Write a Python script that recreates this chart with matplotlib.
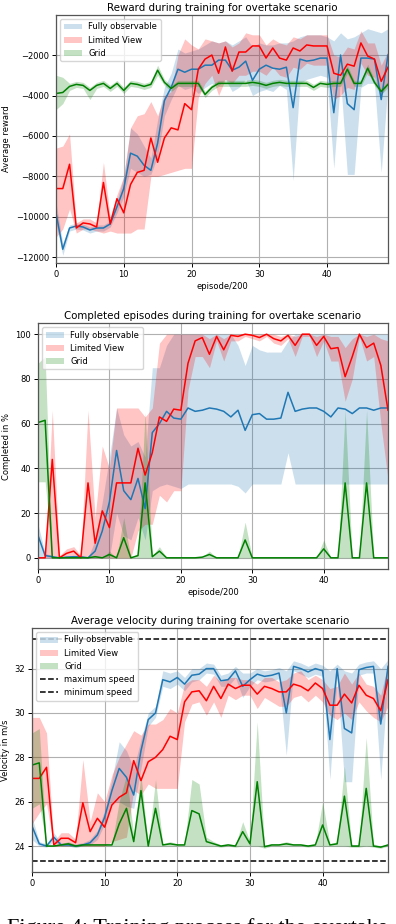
import numpy as np
import matplotlib
matplotlib.use('Agg')
import matplotlib.pyplot as plt

# episodes (x / 200)
episodes = list(range(50))

# ---- reward panel ----
rew_full = [-9800, -11600, -10550, -10450, -10500, -10650, -10550, -10550, -10350, -9500,
            -8600, -6850, -7000, -7450, -7700, -6350, -4250, -3600, -2700, -2850,
            -2700, -2700, -2500, -2500, -2250, -2250, -2750, -2600, -2300, -3250,
            -2700, -2500, -2650, -2700, -2600, -4600, -2200, -2300, -2250, -2150,
            -2150, -4850, -2000, -4400, -4700, -2150, -2150, -2200, -4200, -2000]
rew_full_lo = [-10300, -11900, -10700, -10600, -10650, -10800, -10700, -10700, -10500, -9800,
               -9000, -7600, -7800, -8000, -7900, -7000, -5000, -4200, -3500, -3700,
               -3600, -3900, -3600, -3400, -3500, -3200, -3800, -3600, -3200, -4000,
               -3800, -3700, -3800, -3500, -3700, -8200, -3400, -3200, -3100, -3000,
               -3100, -7600, -3200, -7900, -7900, -3600, -3400, -3400, -7800, -3400]
rew_full_hi = [-9300, -11300, -10400, -10300, -10350, -10500, -10400, -10400, -10200, -9200,
               -8000, -5600, -5900, -6500, -7100, -5200, -3600, -2900, -1700, -1900,
               -1800, -1700, -1500, -1300, -1400, -1300, -1500, -1300, -1100, -1600,
               -1400, -1500, -1500, -1400, -1400, -1300, -1100, -1000, -1000, -1000,
               -1100, -1300, -900, -1200, -1100, -900, -700, -800, -900, -700]

rew_lim = [-8600, -8600, -7400, -10550, -10300, -10350, -10500, -8300, -10350, -9100,
           -9800, -8400, -7800, -7700, -6100, -7300, -6100, -5600, -5700, -4400,
           -4700, -2700, -2200, -2000, -2900, -1600, -2800, -1850, -1850, -1550,
           -1550, -2150, -1650, -2150, -2250, -1650, -1800, -1500, -1550, -1550,
           -1550, -2900, -3000, -2450, -2550, -1400, -2050, -2200, -3300, -2600]
rew_lim_lo = [-11000, -10600, -9600, -10800, -10600, -10600, -10700, -10800, -10700, -10800,
              -10800, -10800, -10600, -10600, -8000, -8000, -7900, -7800, -7700, -7600,
              -7600, -4100, -3400, -3000, -4000, -3200, -3400, -3000, -3000, -2800,
              -2800, -3000, -2600, -3000, -3100, -2600, -2700, -2400, -2500, -2500,
              -2500, -4200, -4000, -3600, -3700, -2400, -3000, -3100, -4000, -3400]
rew_lim_hi = [-6600, -6500, -5900, -10300, -10100, -10100, -10300, -7300, -10000, -8900,
              -8000, -5600, -5000, -4900, -4300, -5000, -4000, -3800, -2000, -1200,
              -1500, -1700, -1200, -1300, -1400, -1300, -1600, -1400, -900, -1000,
              -1000, -1500, -1200, -1400, -1500, -1100, -1200, -1000, -1000, -1000,
              -1000, -2000, -2100, -1600, -1700, -800, -1400, -1400, -2500, -1800]

rew_grid = [-3900, -3850, -3550, -3450, -3500, -3750, -3500, -3400, -3650, -3400,
            -3750, -3400, -3450, -3550, -3450, -2750, -3350, -3650, -3400, -3400,
            -3400, -3400, -3950, -3600, -3400, -3400, -3400, -3400, -3400, -3350,
            -3400, -3500, -3400, -3350, -3400, -3400, -3400, -3400, -3600, -3400,
            -3450, -3400, -3400, -2700, -3400, -3400, -2650, -3350, -3800, -3450]
rew_grid_lo = [-4700, -4400, -3750, -3600, -3650, -4200, -3650, -3550, -3800, -3550,
               -3900, -3550, -3600, -3700, -3600, -3000, -3500, -3800, -3550, -3550,
               -3550, -3550, -4100, -3750, -3550, -3550, -3550, -3550, -3550, -3500,
               -3550, -3650, -3550, -3500, -3550, -3550, -3550, -3550, -3750, -3550,
               -3600, -3550, -3550, -2900, -3550, -3550, -2850, -3500, -3950, -3600]
rew_grid_hi = [-3000, -3100, -3400, -3300, -3350, -3600, -3350, -3250, -3500, -3250,
               -3600, -3250, -3300, -3400, -3300, -2500, -3200, -3500, -3250, -3250,
               -3250, -3250, -3800, -3450, -3250, -3250, -3250, -3250, -3250, -3200,
               -3250, -3350, -3250, -3200, -3250, -3250, -3250, -3250, -3450, -3250,
               -3300, -3250, -3250, -2500, -3250, -3250, -2450, -3200, -3650, -3300]

# ---- completed panel ----
comp_full = [10, 1, 0.5, 0, 0.3, 0.5, 0.5, 0, 3, 12,
             25, 48, 30, 26, 35.5, 22, 56, 60, 65.5, 62.5,
             62, 67, 65.5, 66, 67, 66.5, 65.5, 63, 66, 57,
             64, 64.5, 62, 62, 62.5, 74, 65.5, 66.5, 67, 67,
             65.5, 63, 67, 66.5, 64.5, 67, 67, 66, 67, 67]
comp_full_lo = [0, 0, 0, 0, 0, 0, 0, 0, 0, 0,
                0, 20, 10, 8, 18, 8, 30, 32, 33, 32,
                31, 33, 33, 33, 33, 33, 33, 33, 32, 29,
                33, 33, 33, 33, 33, 47, 33, 33, 33, 33,
                33, 33, 33, 33, 33, 33, 33, 33, 33, 33]
comp_full_hi = [15, 2, 1, 0, 1, 1, 1, 0, 8, 25,
                45, 67, 55, 50, 52, 45, 85, 85, 95, 100,
                100, 100, 100, 100, 100, 100, 100, 100, 95, 86,
                95, 93, 92, 92, 92, 97, 100, 100, 100, 100,
                100, 100, 100, 100, 100, 100, 100, 100, 100, 100]

comp_lim = [0, 0, 44, 0, 2, 3, 0, 33.5, 6.5, 21,
            13.5, 33.5, 33.5, 33.5, 49, 37, 47, 63, 61, 66.5,
            66, 87, 97, 98.5, 91, 99, 93, 99.5, 99, 100,
            99.5, 98.5, 100, 98, 97, 99.5, 95, 100, 100, 95,
            99, 93.5, 94, 81, 90, 100, 94, 96, 86, 66]
comp_lim_lo = [0, 0, 0, 0, 0, 0, 0, 0, 0, 0,
               0, 0, 0, 0, 12, 15, 15, 28, 25, 30,
               30, 75, 90, 90, 85, 97, 88, 97, 97, 99,
               98, 97, 99, 96, 95, 98, 90, 99, 99, 90,
               97, 88, 88, 70, 80, 99, 88, 90, 60, 35]
comp_lim_hi = [0, 0, 66, 1, 4, 5, 1, 66, 18, 50,
               40, 67, 67, 67, 67, 63, 67, 96, 100, 100,
               100, 100, 100, 100, 98, 100, 98, 100, 100, 100,
               100, 100, 100, 100, 99, 100, 99, 100, 100, 99,
               100, 99, 99, 94, 98, 100, 99, 100, 98, 97]

comp_grid = [60.5, 61.5, 0, 0, 0, 0, 0, 0, 0.5, 0,
             1.5, 0, 9, 0, 1, 33.5, 0.5, 3, 0, 0,
             0, 0, 0, 0.3, 1.5, 0, 0, 0, 0, 8,
             0, 0, 0, 0, 0, 0, 0, 0, 0, 0,
             4, 0, 0, 33.5, 0, 0, 33.5, 0, 0, 0]
comp_grid_lo = [34, 34, 0, 0, 0, 0, 0, 0, 0, 0,
                0, 0, 0, 0, 0, 0, 0, 0, 0, 0,
                0, 0, 0, 0, 0, 0, 0, 0, 0, 0,
                0, 0, 0, 0, 0, 0, 0, 0, 0, 0,
                0, 0, 0, 0, 0, 0, 0, 0, 0, 0]
comp_grid_hi = [87, 90, 0, 0, 0, 0, 0, 0, 1, 0,
                3, 0, 18, 0, 2, 65, 1, 5, 0, 0,
                0, 0, 0, 0.5, 3, 0, 0, 0, 0, 16,
                0, 0, 0, 0, 0, 0, 0, 0, 0, 0,
                8, 0, 0, 66, 0, 0, 66, 0, 0, 0]

# ---- velocity panel ----
vel_full = [24.9, 24.1, 24.0, 24.4, 24.05, 24.05, 24.0, 24.05, 24.15, 24.5,
            25.3, 26.5, 27.5, 27.1, 26.3, 28.3, 29.7, 30.0, 31.5, 31.4,
            31.6, 31.3, 31.7, 31.75, 32.0, 32.0, 31.45, 31.5, 31.9, 31.2,
            31.5, 31.75, 31.65, 31.7, 31.8, 30.0, 32.1, 32.0, 31.85, 32.0,
            31.9, 28.8, 32.0, 29.3, 29.1, 31.95, 32.05, 32.1, 29.5, 32.1]
vel_full_lo = [24.3, 24.0, 23.95, 24.2, 24.0, 24.0, 23.95, 24.0, 24.05, 24.3,
               25.0, 26.0, 26.0, 25.8, 25.7, 27.5, 29.4, 29.8, 31.2, 31.1,
               31.3, 31.0, 31.4, 31.5, 31.8, 31.75, 31.2, 31.2, 31.6, 30.7,
               31.2, 31.5, 31.4, 31.45, 31.55, 28.1, 31.9, 31.75, 31.6, 31.75,
               31.65, 27.0, 31.6, 26.9, 26.9, 31.7, 31.8, 31.8, 27.0, 31.6]
vel_full_hi = [25.3, 24.2, 24.1, 24.6, 24.15, 24.15, 24.1, 24.15, 24.3, 24.7,
               25.6, 27.0, 28.7, 28.3, 27.5, 28.8, 30.0, 30.3, 31.9, 31.8,
               31.9, 31.6, 32.0, 32.0, 32.25, 32.2, 31.7, 31.8, 32.1, 31.8,
               31.8, 32.0, 31.9, 31.95, 32.05, 31.9, 32.35, 32.25, 32.1, 32.25,
               32.15, 31.9, 32.2, 31.9, 31.8, 32.2, 32.3, 32.35, 32.0, 32.4]

vel_lim = [27.05, 27.05, 27.55, 24.05, 24.35, 24.35, 24.15, 25.95, 24.65, 25.25,
           24.85, 25.85, 26.2, 26.4, 27.85, 26.95, 27.8, 28.0, 28.35, 28.95,
           28.8, 30.5, 30.95, 31.0, 30.55, 31.2, 30.65, 31.3, 31.1, 31.25,
           31.25, 30.85, 31.2, 31.1, 30.95, 30.95, 31.3, 31.2, 31.0, 31.35,
           31.1, 30.35, 30.35, 30.85, 30.45, 31.25, 30.8, 30.65, 30.1, 31.5]
vel_lim_lo = [25.0, 25.5, 25.9, 24.0, 24.0, 24.0, 24.0, 24.0, 24.0, 24.0,
              24.0, 24.2, 24.3, 24.4, 26.5, 26.3, 26.8, 26.6, 26.6, 26.6,
              26.6, 29.6, 30.4, 30.5, 29.9, 30.5, 29.8, 30.8, 30.6, 30.8,
              30.8, 30.2, 30.7, 30.5, 30.3, 30.3, 30.7, 30.8, 30.5, 30.8,
              30.5, 29.9, 29.7, 30.0, 29.7, 30.5, 30.1, 29.8, 29.6, 30.3]
vel_lim_hi = [29.8, 29.8, 29.1, 24.2, 24.6, 24.6, 24.3, 27.9, 25.1, 26.4,
              26.0, 27.2, 28.0, 28.6, 29.2, 29.0, 29.5, 29.5, 29.7, 30.2,
              30.0, 31.3, 31.5, 31.5, 31.2, 31.7, 31.4, 31.6, 31.6, 31.5,
              31.5, 31.3, 31.6, 31.6, 31.4, 31.5, 31.8, 31.9, 31.5, 31.7,
              31.5, 31.1, 31.2, 31.8, 31.3, 31.8, 31.3, 31.2, 30.8, 32.2]

vel_grid = [27.65, 27.75, 24.0, 24.0, 24.05, 24.1, 24.0, 24.05, 24.05, 24.05,
            24.05, 24.05, 25.0, 25.7, 24.2, 26.5, 24.0, 25.7, 24.05, 24.1,
            24.05, 24.05, 25.6, 25.45, 24.2, 24.1, 24.0, 24.05, 24.0, 24.65,
            24.1, 26.9, 23.97, 24.05, 24.05, 24.1, 24.05, 24.05, 24.0, 24.05,
            24.95, 24.05, 24.1, 26.25, 24.0, 24.0, 26.6, 24.0, 23.95, 24.05]
vel_grid_lo = [25.7, 25.9, 24.0, 24.0, 24.0, 24.0, 23.95, 24.0, 24.0, 24.0,
               24.0, 24.0, 24.0, 24.0, 24.0, 24.0, 24.0, 24.0, 24.0, 24.0,
               24.0, 24.0, 24.0, 24.0, 24.0, 24.0, 23.95, 24.0, 23.95, 24.0,
               24.0, 24.0, 23.9, 24.0, 24.0, 24.0, 24.0, 24.0, 23.95, 24.0,
               24.0, 24.0, 24.0, 24.0, 23.95, 23.95, 24.0, 23.95, 23.9, 24.0]
vel_grid_hi = [29.1, 29.3, 24.0, 24.05, 24.1, 24.2, 24.05, 24.1, 24.1, 24.1,
               24.1, 24.1, 26.0, 27.2, 24.5, 27.2, 24.05, 27.0, 24.1, 24.2,
               24.1, 24.1, 27.0, 26.8, 24.4, 24.2, 24.05, 24.1, 24.05, 25.1,
               24.2, 29.6, 24.05, 24.1, 24.1, 24.2, 24.1, 24.1, 24.05, 24.1,
               26.0, 24.1, 24.2, 27.6, 24.05, 24.05, 28.9, 24.1, 24.0, 24.1]

max_speed = 33.33
min_speed = 23.33

labels = ['Fully observable', 'Limited View', 'Grid']
colors = ['tab:blue', 'red', 'green']

plt.rcParams['font.family'] = 'DejaVu Sans'
plt.rcParams['font.size'] = 6

fig = plt.figure(figsize=(3.96, 9.24), dpi=100)
H = 924.0
W = 396.0


def make_axes(left, right, top, bottom):
    return fig.add_axes([left / W, 1 - bottom / H, (right - left) / W, (bottom - top) / H])


def draw_panel(ax, series, title, ylabel, xlabel=True):
    for (mean, lo, hi), lab, col in zip(series, labels, colors):
        ax.fill_between(episodes, lo, hi, color=col, alpha=0.23, linewidth=0, label=lab)
        ax.plot(episodes, mean, color=col, linewidth=1.1)
    ax.set_title(title, fontsize=7.4, pad=3)
    ax.set_ylabel(ylabel, fontsize=6)
    if xlabel:
        ax.set_xlabel('episode/200', fontsize=6, labelpad=2)
    ax.set_xlim(0, 49)
    ax.set_xticks([0, 10, 20, 30, 40])
    ax.grid(True, color='#b0b0b0', linewidth=0.8)
    ax.set_axisbelow(True)
    ax.tick_params(labelsize=6, length=3, width=0.7, pad=2)
    for s in ax.spines.values():
        s.set_color('#555555')
        s.set_linewidth(0.9)


# Reward
ax1 = make_axes(56, 388, 15, 263)
draw_panel(ax1, [(rew_full, rew_full_lo, rew_full_hi),
                 (rew_lim, rew_lim_lo, rew_lim_hi),
                 (rew_grid, rew_grid_lo, rew_grid_hi)],
           'Reward during training for overtake scenario', 'Average reward')
ax1.set_ylim(-12280, -20)
ax1.set_yticks([-12000, -10000, -8000, -6000, -4000, -2000])
ax1.legend(loc='upper left', fontsize=6, framealpha=0.8, handlelength=2.2)
ax1.yaxis.set_label_coords(-0.135, 0.5)

# Completed
ax2 = make_axes(38, 388, 323, 569)
draw_panel(ax2, [(comp_full, comp_full_lo, comp_full_hi),
                 (comp_lim, comp_lim_lo, comp_lim_hi),
                 (comp_grid, comp_grid_lo, comp_grid_hi)],
           'Completed episodes during training for overtake scenario', 'Completed in %')
ax2.set_ylim(-5, 105)
ax2.set_yticks([0, 20, 40, 60, 80, 100])
ax2.legend(loc='upper left', fontsize=6, framealpha=0.8, handlelength=2.2)
ax2.yaxis.set_label_coords(-0.078, 0.5)

# Velocity
ax3 = make_axes(32, 388, 628, 872)
draw_panel(ax3, [(vel_full, vel_full_lo, vel_full_hi),
                 (vel_lim, vel_lim_lo, vel_lim_hi),
                 (vel_grid, vel_grid_lo, vel_grid_hi)],
           'Average velocity during training for overtake scenario', 'Velocity in m/s',
           xlabel=False)
ax3.axhline(max_speed, color='black', linestyle='--', linewidth=1.1, label='maximum speed')
ax3.axhline(min_speed, color='black', linestyle='--', linewidth=1.1, label='minimum speed')
ax3.set_ylim(22.83, 33.83)
ax3.set_yticks([24, 26, 28, 30, 32])
ax3.legend(loc='upper left', fontsize=6, framealpha=0.8, handlelength=2.2)
ax3.yaxis.set_label_coords(-0.063, 0.5)

# caption (cut off at the bottom edge of the page crop)
fig.text(7 / W, 1 - 933 / H, 'Figure 4: Training process for the overtake',
         family='Liberation Serif', fontsize=16, va='baseline', ha='left')

fig.savefig('out.png', dpi=100)
